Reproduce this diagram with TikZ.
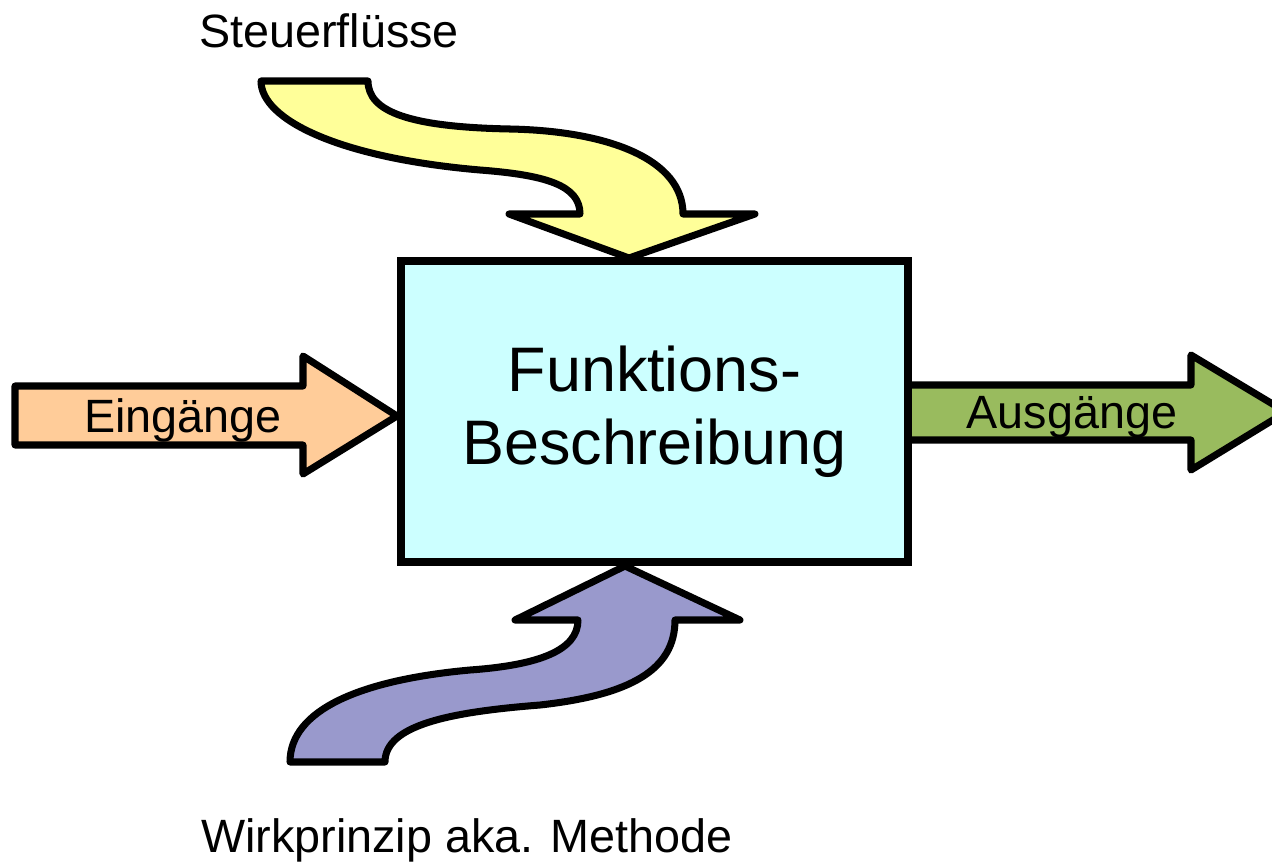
\documentclass[tikz,border=0pt]{standalone}
\usepackage{fontspec}
\setmainfont{Liberation Sans}
\definecolor{steuergelb}{HTML}{FFFF99}
\definecolor{kastencyan}{HTML}{CCFFFF}
\definecolor{eingangorange}{HTML}{FFCC99}
\definecolor{ausganggruen}{HTML}{99BB5E}
\definecolor{methodelila}{HTML}{9999CC}
\tikzset{
  pfeil/.style={draw=black, line width=4pt, line join=round},
  lbl/.style={font=\fontsize{26.6}{32}\selectfont, inner sep=0pt, anchor=base},
}

\begin{document}
\begin{tikzpicture}[x=0.02cm, y=-0.02cm]
    \useasboundingbox (0,0) rectangle (1272,863);
    % Steuerfluesse von oben
    \filldraw[pfeil, fill=steuergelb] (261,81) -- (368,81)
        .. controls (368,112) and (410,127) .. (510,129)
        .. controls (610,131) and (683,160) .. (683,214)
        -- (755,214) -- (629,258) -- (509,214) -- (580,214)
        .. controls (580,185) and (545,175) .. (480,170)
        .. controls (340,158) and (261,120) .. (261,81) -- cycle;
    % Wirkprinzip von unten
    \filldraw[pfeil, fill=methodelila] (290,762)
        .. controls (290,710) and (360,680) .. (470,670)
        .. controls (540,665) and (578,650) .. (578,620)
        -- (515,620) -- (625,566) -- (740,620) -- (675,620)
        .. controls (675,670) and (630,695) .. (540,705)
        .. controls (450,712) and (385,725) .. (385,762) -- cycle;
    % Eingaenge und Ausgaenge
    \filldraw[pfeil, fill=eingangorange] (15,386) -- (303,386) -- (303,356)
        -- (397,416) -- (303,474) -- (303,445) -- (15,445) -- cycle;
    \filldraw[pfeil, fill=ausganggruen] (900,385) -- (1191,385) -- (1191,355)
        -- (1286,412) -- (1191,470) -- (1191,440) -- (900,440) -- cycle;
    % Kasten
    \node[draw, line width=4.5pt, fill=kastencyan, minimum width=10.14cm,
        minimum height=6.02cm, align=center,
        font=\fontsize{35.8}{41.4}\selectfont] (fb) at (654.5,411.5)
        {Funktions-\\Beschreibung};
    \node[lbl] (ein) at (183,432) {Eingänge};
    \node[lbl] (aus) at (1072,428) {Ausgänge};
    \node[lbl] (steuer) at (329,47) {Steuerflüsse};
    \node[lbl] (methode) at (467,852) {Wirkprinzip aka. Methode};
\end{tikzpicture}
\end{document}
